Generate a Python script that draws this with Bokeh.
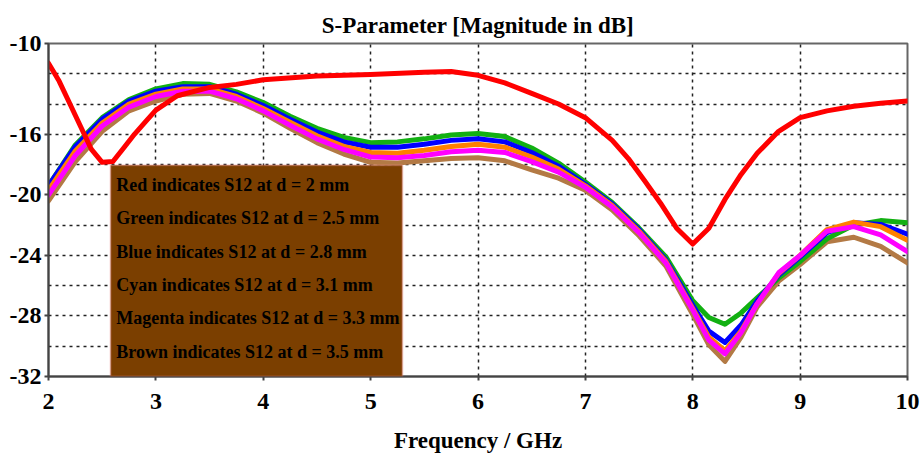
from bokeh.plotting import figure
from bokeh.models import FixedTicker, Range1d, BoxAnnotation, Label, PrintfTickFormatter
from bokeh.embed import file_html
from bokeh.resources import INLINE

# ---------------- data ----------------
freq_red = [2.0, 2.1, 2.2, 2.3, 2.4, 2.5, 2.6, 2.7, 2.8, 2.9, 3.0, 3.2, 3.5, 3.75,
            4.0, 4.5, 5.0, 5.5, 5.75, 6.0, 6.25, 6.5, 6.75, 7.0, 7.25, 7.4, 7.55,
            7.7, 7.85, 8.0, 8.15, 8.3, 8.45, 8.6, 8.8, 9.0, 9.25, 9.5, 9.75, 10.0]
s12_d2_0 = [-11.3, -12.5, -14.0, -15.5, -17.0, -17.85, -17.8, -16.9, -16.0, -15.2, -14.4,
            -13.45, -12.9, -12.7, -12.4, -12.15, -12.05, -11.9, -11.85, -12.1, -12.6,
            -13.3, -14.0, -14.9, -16.4, -17.6, -19.05, -20.55, -22.2, -23.25, -22.2,
            -20.3, -18.65, -17.25, -15.8, -14.9, -14.45, -14.15, -13.95, -13.8]

freq = [2.0, 2.25, 2.5, 2.75, 3.0, 3.25, 3.5, 3.75, 4.0, 4.25, 4.5, 4.75, 5.0, 5.25,
        5.5, 5.75, 6.0, 6.25, 6.5, 6.75, 7.0, 7.25, 7.5, 7.75, 8.0, 8.15, 8.3, 8.45,
        8.6, 8.8, 9.0, 9.25, 9.5, 9.75, 10.0]
s12_d2_5 = [-19.4, -16.7, -14.9, -13.7, -13.0, -12.65, -12.7, -13.2, -13.9, -14.8, -15.6,
            -16.2, -16.55, -16.5, -16.3, -16.05, -15.95, -16.15, -16.9, -17.9, -19.15,
            -20.5, -22.2, -24.1, -27.0, -28.1, -28.55, -27.8, -26.8, -25.5, -24.4,
            -22.9, -22.0, -21.7, -21.85]
s12_d2_8 = [-19.4, -16.8, -15.0, -13.8, -13.15, -12.85, -12.85, -13.35, -14.1, -15.0,
            -15.85, -16.5, -16.85, -16.85, -16.65, -16.4, -16.3, -16.5, -17.2, -18.1,
            -19.3, -20.6, -22.3, -24.3, -27.3, -29.0, -29.75, -28.6, -27.0, -25.3,
            -24.1, -22.5, -21.85, -21.95, -22.6]
s12_d3_1 = [-19.7, -17.1, -15.25, -14.0, -13.35, -13.0, -13.0, -13.5, -14.3, -15.2,
            -16.1, -16.8, -17.2, -17.25, -17.05, -16.8, -16.65, -16.85, -17.5, -18.3,
            -19.4, -20.7, -22.4, -24.4, -27.5, -29.4, -30.3, -29.0, -27.2, -25.2,
            -24.0, -22.3, -21.8, -22.1, -23.0]
s12_d3_3 = [-20.0, -17.4, -15.45, -14.2, -13.5, -13.15, -13.15, -13.65, -14.45, -15.4,
            -16.3, -17.0, -17.5, -17.55, -17.4, -17.15, -17.05, -17.2, -17.8, -18.5,
            -19.5, -20.8, -22.5, -24.5, -27.6, -29.6, -30.5, -29.1, -27.2, -25.15,
            -24.0, -22.4, -22.1, -22.65, -23.75]
s12_d3_5 = [-20.4, -17.8, -15.8, -14.45, -13.8, -13.35, -13.3, -13.8, -14.6, -15.6,
            -16.55, -17.3, -17.85, -17.9, -17.75, -17.6, -17.55, -17.75, -18.35, -18.9,
            -19.7, -21.0, -22.7, -24.7, -27.9, -29.9, -31.0, -29.4, -27.4, -25.7,
            -24.6, -23.1, -22.8, -23.4, -24.5]

legend_texts = [
    "Red indicates S12 at d = 2 mm",
    "Green indicates S12 at d = 2.5 mm",
    "Blue indicates S12 at d = 2.8 mm",
    "Cyan indicates S12 at d = 3.1 mm",
    "Magenta indicates S12 at d = 3.3 mm",
    "Brown indicates S12 at d = 3.5 mm",
]
y_tick_values = [-32, -28, -24, -20, -16, -10]
y_grid_values = [-30, -28, -26, -24, -22, -20, -18, -16, -14, -12]
x_tick_values = [2, 3, 4, 5, 6, 7, 8, 9, 10]

# ---------------- figure ----------------
FONT = "Liberation Serif"
p = figure(width=920, height=455, output_backend="svg", toolbar_location=None,
           x_range=Range1d(2, 10), y_range=Range1d(-32, -10),
           min_border_left=48, min_border_right=13, min_border_top=43,
           min_border_bottom=78,
           title="S-Parameter [Magnitude in dB]", x_axis_label="Frequency / GHz")

p.title.align = "center"
p.title.vertical_align = "middle"
p.title.text_font = FONT
p.title.text_font_style = "bold"
p.title.text_font_size = "23px"
p.title.text_color = "black"

p.outline_line_color = "#666666"
p.outline_line_width = 2
p.background_fill_color = "white"
p.border_fill_color = "white"

for ax in (p.xaxis[0], p.yaxis[0]):
    ax.axis_line_color = "#444444"
    ax.axis_line_width = 2
    ax.major_tick_line_color = "#444444"
    ax.major_tick_line_width = 2
    ax.major_tick_out = 4
    ax.major_tick_in = 0
    ax.minor_tick_line_color = None
    ax.major_label_text_font = FONT
    ax.major_label_text_font_style = "bold"
    ax.major_label_text_font_size = "24px"
    ax.major_label_text_color = "black"
    ax.axis_label_text_font = FONT
    ax.axis_label_text_font_style = "bold"
    ax.axis_label_text_font_size = "23px"
    ax.axis_label_text_color = "black"
    ax.formatter = PrintfTickFormatter(format="%d")

p.xaxis.ticker = FixedTicker(ticks=x_tick_values)
p.xaxis.major_label_standoff = 13
p.xaxis.axis_label_standoff = 16
p.yaxis.ticker = FixedTicker(ticks=y_tick_values)
p.yaxis.major_label_standoff = 3

p.xgrid.ticker = FixedTicker(ticks=x_tick_values)
p.ygrid.ticker = FixedTicker(ticks=y_grid_values)
for g in (p.xgrid[0], p.ygrid[0]):
    g.grid_line_color = "#222222"
    g.grid_line_width = 1.5
    g.grid_line_dash = "3 4"

series = [
    (freq, s12_d3_5, "#b37a45"),
    (freq, s12_d2_5, "#12b012"),
    (freq, s12_d2_8, "#0000ff"),
    (freq, s12_d3_1, "#ff8000"),
    (freq, s12_d3_3, "#ff00ff"),
    (freq_red, s12_d2_0, "#ff0000"),
]
for xs, ys, c in series:
    p.line(xs, ys, line_color=c, line_width=5, line_join="round", line_cap="round")

# legend box
box = BoxAnnotation(left=2.578, right=5.296, top=-18.05, bottom=-32,
                    fill_color="#7b3f00", fill_alpha=1.0,
                    line_color="#f08080", line_width=2, level="annotation")
p.add_layout(box)
for i, t in enumerate(legend_texts):
    p.add_layout(Label(x=2.632, y=-19.35 - i * 2.2, text=t,
                       text_font=FONT, text_font_style="bold",
                       text_font_size="18px", text_color="black",
                       text_baseline="middle", text_align="left"))

open("out.html", "w").write(file_html(p, INLINE))
